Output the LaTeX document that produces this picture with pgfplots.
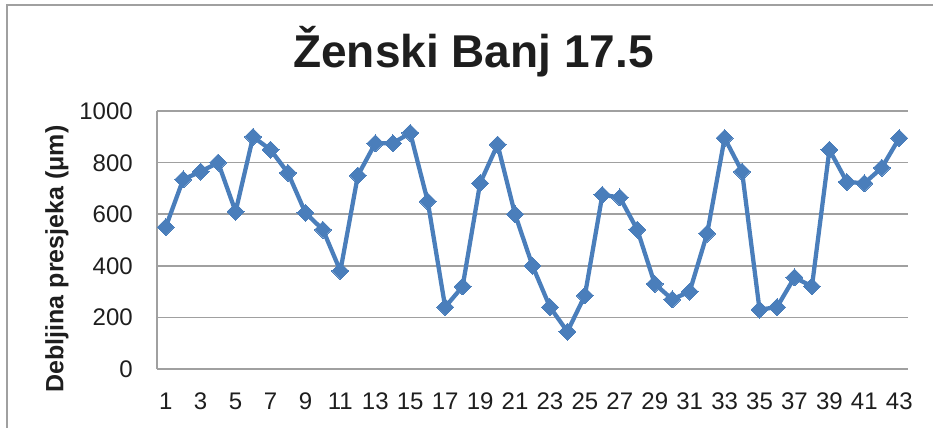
\documentclass[border=0pt]{standalone}
\usepackage{fontspec}
\setmainfont{Liberation Sans}
\usepackage{pgfplots}
\pgfplotsset{compat=1.18}
\definecolor{serblue}{HTML}{4A7EBB}
\definecolor{gridgray}{HTML}{A0A0A0}
\definecolor{txt}{HTML}{1E1E1E}
\begin{document}
\begin{tikzpicture}
\useasboundingbox (0,0) rectangle (699.75pt,-321pt);
% chart frame (top and left visible)
\draw[gridgray, line width=1pt] (5.25pt,-400pt) -- (5.25pt,-3.75pt) -- (720pt,-3.75pt);
\begin{axis}[
  at={(117.75pt,-276.75pt)}, anchor=south west,
  scale only axis, width=563.25pt, height=193.5pt,
  xmin=0.5, xmax=43.5, ymin=0, ymax=1000,
  axis x line=bottom, axis y line=left,
  axis line style={gridgray, line width=1.1pt, -},
  ymajorgrids, grid style={gridgray, line width=1.1pt},
  xtick={1,3,...,43}, ytick={0,200,...,1000},
  major tick length=0pt,
  /pgf/number format/assume math mode=true,
  /pgf/number format/1000 sep={},
  tick label style={font=\fontsize{18pt}{21pt}\selectfont, text=txt, inner sep=0pt},
  xticklabel style={anchor=base, yshift=-30pt},
  yticklabel style={anchor=base east, xshift=-18pt, yshift=-6.4pt},
  clip=false,
]
\addplot[serblue, line width=3.2pt, mark=square*, mark size=4.5pt,
  mark options={rotate=45, fill=serblue, draw=serblue, line width=0pt}]
  coordinates {
(1,550) (2,735) (3,765) (4,800) (5,610) (6,900) (7,850) (8,760) (9,605) (10,540)
(11,380) (12,750) (13,875) (14,875) (15,915) (16,650) (17,240) (18,320) (19,720) (20,870)
(21,600) (22,400) (23,240) (24,145) (25,285) (26,675) (27,665) (28,540) (29,330) (30,270)
(31,300) (32,525) (33,895) (34,765) (35,230) (36,240) (37,355) (38,320) (39,850) (40,725)
(41,720) (42,780) (43,895)
  };
\end{axis}
\node[anchor=base, font=\bfseries\fontsize{34.5pt}{40pt}\selectfont, text=txt, inner sep=0pt] at (355.1pt,-51pt) {Ženski Banj 17.5};
\node[rotate=90, font=\bfseries\fontsize{18.75pt}{22pt}\selectfont, text=txt, inner sep=0pt] at (42.75pt,-194.25pt) {Debljina presjeka (μm)};
\end{tikzpicture}
\end{document}
